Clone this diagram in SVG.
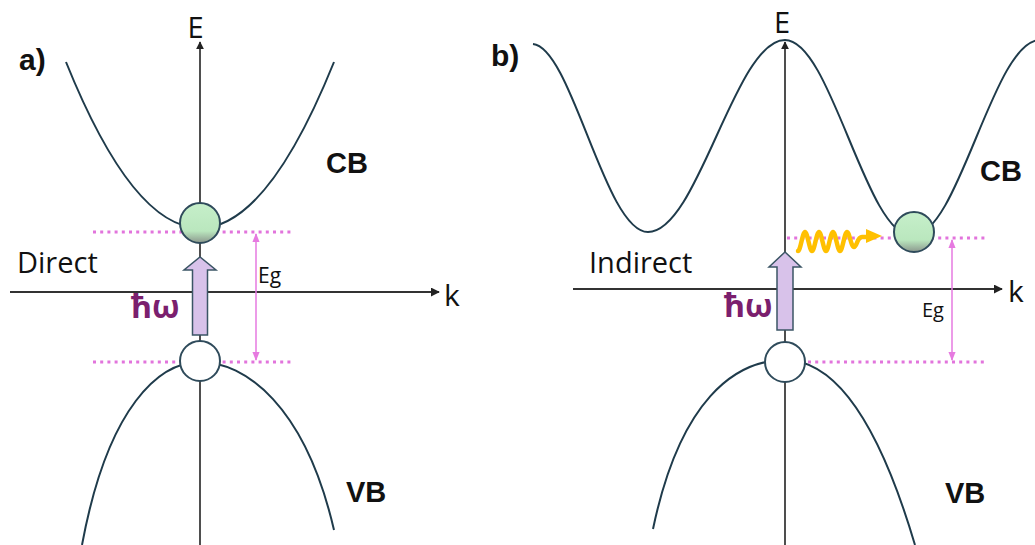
<svg xmlns="http://www.w3.org/2000/svg" width="1035" height="545" viewBox="0 0 1035 545">
<style>
.band{fill:none;stroke:#1f3b4b;stroke-width:2}
.axis{fill:none;stroke:#222;stroke-width:1.6}
.kaxis{fill:none;stroke:#333;stroke-width:2}
.dot{fill:none;stroke:#e274dc;stroke-width:3;stroke-dasharray:3 4.2}
.eg{fill:none;stroke:#e67ae0;stroke-width:1.5}
.lbl{font-family:'Open Sans','Liberation Sans',sans-serif;fill:#111}
.bold{font-family:'Liberation Sans',Arial,sans-serif;font-weight:bold;fill:#111}
.hw{font-family:'Open Sans','Liberation Sans',sans-serif;font-weight:bold;fill:#7b1f6e;font-size:32px}
.photon{fill:#d8c2ea;stroke:#3b5565;stroke-width:1.5}
.hole{fill:#fff;stroke:#2f4b5b;stroke-width:2}
.elec{fill:url(#green);stroke:#2f4b5b;stroke-width:2}
</style>
<defs>
<linearGradient id="green" x1="0" y1="0" x2="0" y2="1">
<stop offset="0" stop-color="#c6efca"/>
<stop offset="0.7" stop-color="#bae7be"/>
<stop offset="1" stop-color="#8b978d"/>
</linearGradient>
<marker id="ah" viewBox="0 0 10 10" refX="9" refY="5" markerWidth="5" markerHeight="5" orient="auto-start-reverse" markerUnits="strokeWidth">
<path d="M0,0 L10,5 L0,10 z" fill="#222"/>
</marker>
<marker id="ahk" viewBox="0 0 10 10" refX="9" refY="5" markerWidth="4.5" markerHeight="4.5" orient="auto-start-reverse" markerUnits="strokeWidth">
<path d="M0,0 L10,5 L0,10 z" fill="#222"/>
</marker>
<marker id="ahp" viewBox="0 0 10 10" refX="9" refY="5" markerWidth="6" markerHeight="6" orient="auto-start-reverse" markerUnits="strokeWidth">
<path d="M0,1 L10,5 L0,9 z" fill="#e67ae0"/>
</marker>
</defs>

<g id="connectors">
<line class="axis" x1="200" y1="545" x2="200" y2="42" marker-end="url(#ah)"/>
<line class="kaxis" x1="10" y1="292" x2="439" y2="292" marker-end="url(#ahk)"/>
<line class="axis" x1="785" y1="545" x2="785" y2="42" marker-end="url(#ah)"/>
<line class="kaxis" x1="573" y1="289" x2="1002" y2="289" marker-end="url(#ahk)"/>
<line class="dot" x1="93" y1="232" x2="293" y2="232"/>
<line class="dot" x1="93" y1="362" x2="293" y2="362"/>
<line class="dot" x1="787" y1="238" x2="988" y2="238"/>
<line class="dot" x1="808" y1="362" x2="988" y2="362"/>
<line class="eg" x1="256" y1="234" x2="256" y2="360" marker-start="url(#ahp)" marker-end="url(#ahp)"/>
<line class="eg" x1="952" y1="240" x2="952" y2="360" marker-start="url(#ahp)" marker-end="url(#ahp)"/>
<path d="M798,251 C800.5,251 802.5,232 805,232 C807.5,232 809.5,251 812,251 C814.5,251 816.5,232 819,232 C821.5,232 823.5,251 826,251 C828.5,251 830.5,232 833,232 C835.5,232 837.5,251 840,251 C842.5,251 844.5,232 847,232 C849.5,232 851,247 854,247 C857,247 857,237 862,237 L870,237" fill="none" stroke="#ffc000" stroke-width="4.5" stroke-linecap="round"/>
<path d="M866,229 L882,236 L866,243 z" fill="#ffc000"/>
</g>

<g id="panel-a">
<path id="cb-a" class="band" d="M66,62 Q200,394 334,62"/>
<path id="vb-a" class="band" d="M82,545 C108,405 160,362 200,362 C245,362 305,405 334,530"/>
<g id="photon-a"><path class="photon" d="M192.5,335 L192.5,270 L184,270 L200,257 L216,270 L207.5,270 L207.5,335 z"/></g>
<g id="electron-a"><circle class="elec" cx="200" cy="223" r="20"/></g>
<g id="hole-a"><circle class="hole" cx="200" cy="361" r="20"/></g>
<text class="bold" x="19" y="70" font-size="30">a)</text>
<text class="lbl" x="195.5" y="38" font-size="29" text-anchor="middle">E</text>
<text class="lbl" x="444" y="306" font-size="30">k</text>
<text class="lbl" x="17" y="273" font-size="29">Direct</text>
<text class="lbl" x="258" y="283" font-size="21">Eg</text>
<text class="hw" x="131" y="318">ħω</text>
<text class="bold" x="326" y="173" font-size="29">CB</text>
<text class="bold" x="346" y="502" font-size="29">VB</text>
</g>

<g id="panel-b">
<path id="cb-b" class="band" d="M533,44 C572,48 605,232 648,232 C698,232 735,40 785,40 C831,40 866,236 912,236 C959,236 993,40 1040,40"/>
<path id="vb-b" class="band" d="M653,529 C680,400 735,360 785,360 C830,360 875,410 915,545"/>
<g id="photon-b"><path class="photon" d="M777,330 L777,267 L769,267 L785,252 L801,267 L793,267 L793,330 z"/></g>
<g id="electron-b"><circle class="elec" cx="914" cy="232" r="20"/></g>
<g id="hole-b"><circle class="hole" cx="785" cy="362" r="20"/></g>
<text class="bold" x="491" y="66" font-size="30">b)</text>
<text class="lbl" x="782" y="33" font-size="29" text-anchor="middle">E</text>
<text class="lbl" x="1008" y="302" font-size="30">k</text>
<text class="lbl" x="589" y="273" font-size="29">Indirect</text>
<text class="lbl" x="922" y="317" font-size="20">Eg</text>
<text class="hw" x="724" y="317">ħω</text>
<text class="bold" x="980" y="181" font-size="29">CB</text>
<text class="bold" x="945" y="503" font-size="29">VB</text>
</g>
</svg>
